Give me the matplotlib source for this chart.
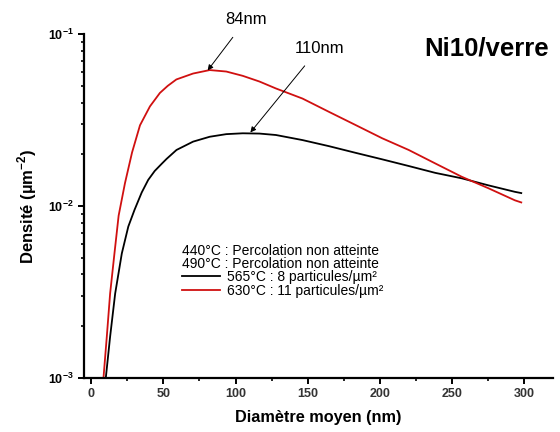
import math
import matplotlib
matplotlib.use("Agg")
import matplotlib.pyplot as plt
from matplotlib.ticker import LogLocator, FuncFormatter, MultipleLocator, NullFormatter

plt.rcParams['font.family'] = ['Liberation Sans', 'DejaVu Sans']
plt.rcParams['mathtext.fontset'] = 'custom'
plt.rcParams['mathtext.rm'] = 'Liberation Sans'
plt.rcParams['mathtext.bf'] = 'Liberation Sans:bold'

# 565°C : 8 particules/µm²  (black)
d_565 = [10.1, 13.1, 16.6, 21.2, 25.7, 30, 35, 39.5, 44, 48.8, 52.2, 59.1, 70.6,
         82.1, 93.6, 105, 116.6, 128, 146.4, 164.8, 183.2, 201.6, 220, 238.4,
         256.8, 275.2, 293.6, 298]
n_565 = [0.001, 0.00174, 0.0031, 0.0053, 0.0076, 0.0095, 0.0120, 0.0142, 0.0160,
         0.0176, 0.0188, 0.0212, 0.0237, 0.0253, 0.0262, 0.0265, 0.0264, 0.0259,
         0.0242, 0.0223, 0.0204, 0.0187, 0.0171, 0.0156, 0.0145, 0.0132, 0.0121,
         0.0119]

# 630°C : 11 particules/µm²  (red)
d_630 = [8.5, 10.8, 13.1, 16.1, 19.0, 23.4, 28.3, 33.8, 40.7, 47.6, 53, 59,
         70.6, 82.1, 93.6, 105, 116.6, 128, 146.4, 164.8, 183.2, 201.6, 220,
         238.4, 256.8, 275.2, 293.6, 298]
n_630 = [0.001, 0.00174, 0.0031, 0.0053, 0.0088, 0.0136, 0.0205, 0.0295, 0.0380,
         0.0455, 0.0500, 0.0545, 0.0590, 0.0618, 0.0606, 0.0572, 0.0530, 0.0483,
         0.0422, 0.0353, 0.0296, 0.0248, 0.0212, 0.0177, 0.0148, 0.0127, 0.0108,
         0.0105]

fig = plt.figure(figsize=(5.6, 4.32), dpi=100)
ax = fig.add_axes([0.15, 0.125, 0.8375, 0.796])

l1, = ax.plot(d_565, n_565, color='black', lw=1.3, label='565°C : 8 particules/µm²')
l2, = ax.plot(d_630, n_630, color='#d01010', lw=1.3, label='630°C : 11 particules/µm²')

ax.set_yscale('log')
ax.set_ylim(1e-3, 1e-1)
ax.set_xlim(-5, 320)

for s in ['top', 'right']:
    ax.spines[s].set_visible(False)
for s in ['left', 'bottom']:
    ax.spines[s].set_linewidth(1.6)

ax.xaxis.set_major_locator(MultipleLocator(50))
ax.xaxis.set_minor_locator(MultipleLocator(25))
ax.yaxis.set_major_locator(LogLocator(base=10))
ax.yaxis.set_minor_locator(LogLocator(base=10, subs=range(2, 10)))
ax.yaxis.set_minor_formatter(NullFormatter())
ax.yaxis.set_major_formatter(FuncFormatter(
    lambda v, p: r'$\mathbf{10^{%d}}$' % round(math.log10(v))))
ax.tick_params(which='major', direction='out', length=4, width=1.4, labelsize=9)
ax.tick_params(which='minor', direction='out', length=2.5, width=1.2)
for lab in ax.get_xticklabels():
    lab.set_fontweight('bold')
    lab.set_color('#333333')

ax.set_xlabel('Diamètre moyen (nm)', fontsize=11.7, fontweight='bold', labelpad=7)
ax.set_ylabel('Densité (µm$^{\\mathbf{-2}}$)', fontsize=12, fontweight='bold', labelpad=6)

ax.text(0.859, 0.959, 'Ni10/verre', transform=ax.transAxes, fontsize=18.5,
        fontweight='bold', ha='center', va='center')

ax.annotate('84nm', xy=(80.7, 0.0615), xytext=(107.6, 0.122),
            fontsize=12, ha='center', va='center',
            arrowprops=dict(arrowstyle='-|>', color='black', lw=0.7,
                            mutation_scale=8, shrinkA=7, shrinkB=0),
            annotation_clip=False)
ax.annotate('110nm', xy=(110.3, 0.0268), xytext=(158, 0.083),
            fontsize=12, ha='center', va='center',
            arrowprops=dict(arrowstyle='-|>', color='black', lw=0.7,
                            mutation_scale=8, shrinkA=7, shrinkB=0))

ax.text(0.209, 0.369, '440°C : Percolation non atteinte', transform=ax.transAxes,
        fontsize=10, va='center')
ax.text(0.209, 0.331, '490°C : Percolation non atteinte', transform=ax.transAxes,
        fontsize=10, va='center')
ax.legend(handles=[l1, l2], loc='center left', bbox_to_anchor=(0.209, 0.274),
          frameon=False, fontsize=10, handlelength=2.7, handletextpad=0.55,
          labelspacing=0.0, borderaxespad=0, borderpad=0)

fig.savefig('out.png', dpi=100)
